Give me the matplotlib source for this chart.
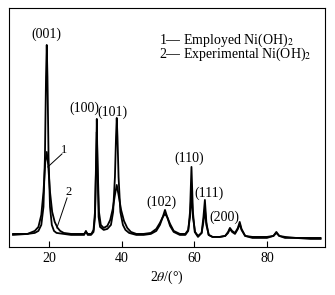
import matplotlib
matplotlib.use("Agg")
from matplotlib import pyplot as plt

plt.rcParams['font.family'] = ['Liberation Serif', 'DejaVu Serif']
plt.rcParams['mathtext.fontset'] = 'stix'

# curve 1 : employed Ni(OH)2 (sharp peaks)
x1 = [10.0, 12, 14, 16, 17, 17.8, 18.4, 18.8, 19.1, 19.3, 19.5, 19.8, 20.2, 20.7, 21.3, 22,
      24, 26, 28, 29.6, 30.1, 30.6, 31.5, 32.2, 32.6, 32.9, 33.1, 33.3, 33.6, 34.0, 35, 36,
      37, 37.6, 38.1, 38.4, 38.6, 38.8, 39.1, 39.6, 40.3, 41, 42, 44, 46, 48, 49.5, 50.5,
      51.3, 51.9, 52.5, 53.3, 54.3, 56, 57.5, 58.3, 58.8, 59.2, 59.6, 60.1, 61, 62, 62.5,
      62.9, 63.3, 63.9, 65, 67, 68.5, 69.3, 69.8, 70.4, 71.2, 72, 72.5, 73, 74, 76, 80,
      81.8, 82.6, 83.4, 85, 88, 92, 94.8]
y1 = [13, 13, 13, 14, 16, 22, 40, 90, 170, 202, 170, 90, 40, 22, 16, 14,
      13, 12, 12, 12, 16, 12, 12, 15, 30, 80, 128, 80, 30, 20, 17, 18,
      22, 35, 70, 110, 129, 110, 70, 35, 22, 17, 14, 12, 12, 13, 16, 22,
      30, 37, 30, 21, 15, 12, 12, 16, 35, 80, 35, 15, 10, 14, 30,
      47, 25, 12, 10, 10, 11, 15, 19, 16, 14, 19, 25, 18, 11, 9, 9,
      11, 15, 11, 9, 9, 8, 8]

# curve 2 : experimental Ni(OH)2 (broad peaks)
x2 = [10.0, 14, 16, 17, 17.8, 18.4, 18.9, 19.3, 19.7, 20.2, 20.8, 21.5, 22.3, 23, 24, 26,
      28, 29.6, 30.1, 30.6, 31.6, 32.2, 32.6, 32.9, 33.1, 33.3, 33.7, 34.2, 35, 36, 36.8,
      37.5, 38.1, 38.6, 39.1, 39.8, 40.6, 41.5, 42.5, 44, 46, 48, 49.5, 50.5, 51.3, 51.9,
      52.5, 53.3, 54.3, 56, 57.5, 58.3, 58.8, 59.2, 59.6, 60.2, 61, 62, 62.5, 62.9, 63.3,
      64, 65, 67, 68.5, 69.3, 69.8, 70.4, 71.2, 72, 72.5, 73, 74, 76, 80, 81.8, 82.6,
      83.4, 85, 88, 92, 94.8]
y2 = [12, 13, 16, 20, 32, 55, 85, 95, 82, 55, 35, 25, 19, 16, 14, 13,
      13, 13, 15, 13, 13, 17, 35, 85, 115, 85, 35, 22, 19, 21, 27,
      38, 52, 62, 52, 37, 26, 19, 15, 13, 13, 14, 18, 24, 30, 33,
      30, 23, 16, 13, 13, 17, 30, 55, 30, 15, 11, 14, 25, 38, 22,
      12, 10, 10, 11, 14, 18, 15, 13, 18, 23, 17, 11, 10, 10, 11, 14,
      11, 10, 9, 9, 9]

peak_labels = ['(001)', '(100)', '(101)', '(102)', '(110)', '(111)', '(200)']
label_x = [19.1, 29.8, 37.5, 51.0, 58.7, 63.9, 68.4]
label_y = [213, 139, 135, 45, 89, 54, 30]

legend_lines = ['1— Employed Ni(OH)$_2$', '2— Experimental Ni(OH)$_2$']

fig = plt.figure(figsize=(3.35, 2.95), dpi=100)
ax = fig.add_axes([0.028, 0.163, 0.942, 0.810])

ax.plot(x2, y2, color='black', lw=1.3)
ax.plot(x1, y1, color='black', lw=1.3)

ax.set_xlim(9, 96)
ax.set_ylim(0, 239)

for t, px, py in zip(peak_labels, label_x, label_y):
	ax.text(px, py, t, ha='center', va='center', fontsize=10)

# curve labels with leader lines
ax.text(24.0, 97, '1', ha='center', va='center', fontsize=9)
ax.plot([23.5, 19.6], [93, 80], color='black', lw=0.7)
ax.text(25.2, 55, '2', ha='center', va='center', fontsize=9)
ax.plot([24.9, 22.1], [49, 19], color='black', lw=0.7)

# legend as one text block
ax.text(0.475, 0.90, '\n'.join(legend_lines), transform=ax.transAxes, fontsize=10,
        va='top', ha='left', linespacing=0.72)

ax.set_xticks([20, 40, 60, 80])
ax.set_yticks([])
ax.tick_params(axis='x', direction='in', length=4, labelsize=10, pad=4)
ax.set_xlabel(r'2$\it{\theta}$/(°)', fontsize=10, labelpad=2)

fig.savefig('out.png', dpi=100)
